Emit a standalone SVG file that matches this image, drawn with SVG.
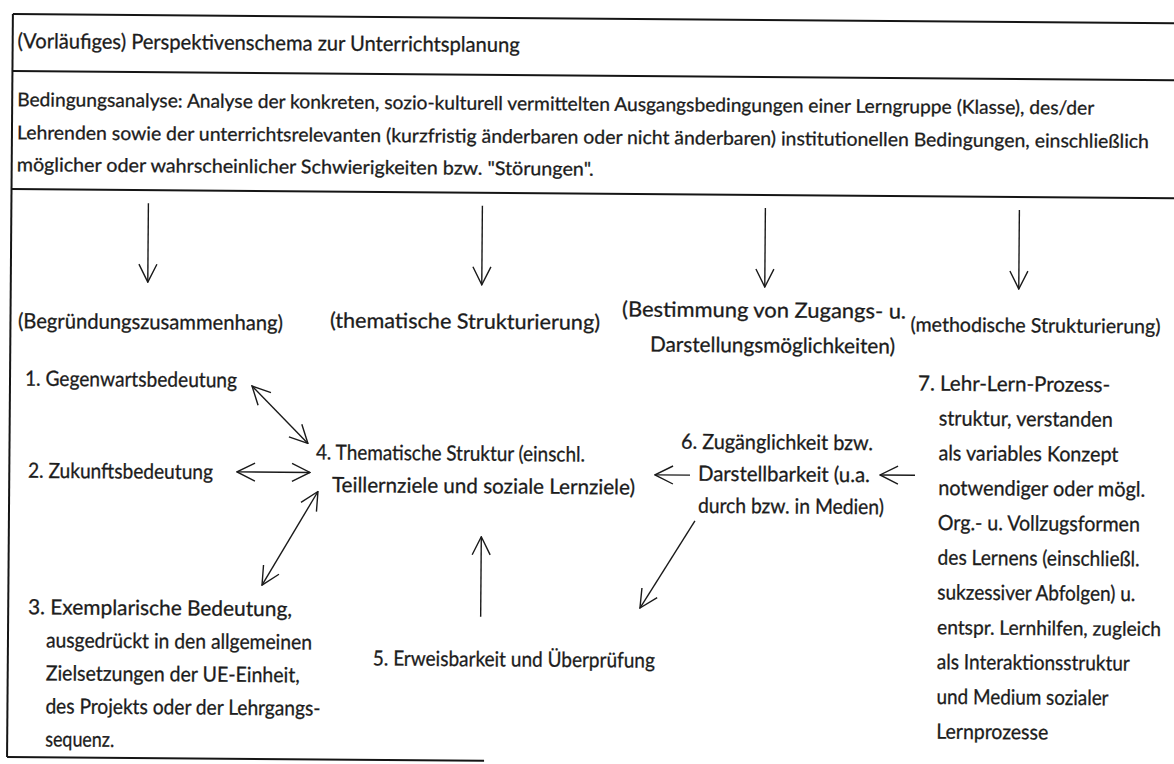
<svg xmlns="http://www.w3.org/2000/svg" width="1174" height="764" viewBox="0 0 1174 764">
<style>
text{font-family:Lato,"Open Sans","Liberation Sans",sans-serif;font-size:21px;fill:#1c1c1c;stroke:#1c1c1c;stroke-width:0.3}
.title{font-size:21px}
.body{font-size:19px}
.mid{font-size:20px}
.frame{stroke:#151515;stroke-width:2;fill:none}
.conn line{stroke:#1a1a1a;stroke-width:1.4;fill:none}
</style>
<defs>
<marker id="ah" viewBox="0 0 20 20" refX="19" refY="10" markerWidth="20" markerHeight="20" markerUnits="userSpaceOnUse" orient="auto-start-reverse">
<path d="M1,1 L19,10 L1,19" fill="none" stroke="#1a1a1a" stroke-width="1.4"/>
</marker>
</defs>
<rect x="0" y="0" width="1174" height="764" fill="#ffffff"/>
<g transform="rotate(0.45)">
<g id="frame" class="frame">
<line x1="13" y1="14" x2="1185" y2="14"/>
<line x1="13" y1="71" x2="1185" y2="71"/>
<line x1="13" y1="189" x2="1185" y2="189"/>
<line x1="13" y1="14" x2="13" y2="757"/>
<line x1="13" y1="757" x2="490" y2="757"/>
</g>
<g id="header">
<text class="title" x="18" y="48" textLength="502" lengthAdjust="spacingAndGlyphs">(Vorläufiges) Perspektivenschema zur Unterrichtsplanung</text>
</g>
<g id="bedingungsanalyse">
<text class="body" x="18" y="106" textLength="1077" lengthAdjust="spacingAndGlyphs">Bedingungsanalyse: Analyse der konkreten, sozio-kulturell vermittelten Ausgangsbedingungen einer Lerngruppe (Klasse), des/der</text>
<text class="body" x="18" y="139" textLength="1132" lengthAdjust="spacingAndGlyphs">Lehrenden sowie der unterrichtsrelevanten (kurzfristig änderbaren oder nicht änderbaren) institutionellen Bedingungen, einschließlich</text>
<text class="body" x="18" y="171" textLength="577" lengthAdjust="spacingAndGlyphs">möglicher oder wahrscheinlicher Schwierigkeiten bzw. "Störungen".</text>
</g>
<g id="perspektive-begruendung">
<text x="20.5" y="328" textLength="265" lengthAdjust="spacingAndGlyphs">(Begründungszusammenhang)</text>
</g>
<g id="perspektive-thematisch">
<text x="332.5" y="325" textLength="270" lengthAdjust="spacingAndGlyphs">(thematische Strukturierung)</text>
</g>
<g id="perspektive-zugang">
<text x="624.5" y="311.5" textLength="284" lengthAdjust="spacingAndGlyphs">(Bestimmung von Zugangs- u.</text>
<text x="652.7" y="346.5" textLength="245" lengthAdjust="spacingAndGlyphs">Darstellungsmöglichkeiten)</text>
</g>
<g id="perspektive-methodisch">
<text class="mid" x="913" y="324.3" textLength="250" lengthAdjust="spacingAndGlyphs">(methodische Strukturierung)</text>
</g>
<g id="n1">
<text x="28" y="385.5" textLength="212" lengthAdjust="spacingAndGlyphs">1. Gegenwartsbedeutung</text>
</g>
<g id="n2">
<text x="31.7" y="477.5" textLength="185" lengthAdjust="spacingAndGlyphs">2. Zukunftsbedeutung</text>
</g>
<g id="n3">
<text x="32.8" y="614" textLength="264" lengthAdjust="spacingAndGlyphs">3. Exemplarische Bedeutung,</text>
<text x="51" y="647" textLength="266" lengthAdjust="spacingAndGlyphs">ausgedrückt in den allgemeinen</text>
<text x="51" y="680" textLength="254" lengthAdjust="spacingAndGlyphs">Zielsetzungen der UE-Einheit,</text>
<text x="51" y="713" textLength="275" lengthAdjust="spacingAndGlyphs">des Projekts oder der Lehrgangs-</text>
<text x="51" y="746" textLength="69" lengthAdjust="spacingAndGlyphs">sequenz.</text>
</g>
<g id="n4">
<text x="319.5" y="457" textLength="269" lengthAdjust="spacingAndGlyphs">4. Thematische Struktur (einschl.</text>
<text x="335.8" y="489.5" textLength="303" lengthAdjust="spacingAndGlyphs">Teillernziele und soziale Lernziele)</text>
</g>
<g id="n5">
<text x="378" y="662.5" textLength="282" lengthAdjust="spacingAndGlyphs">5. Erweisbarkeit und Überprüfung</text>
</g>
<g id="n6">
<text x="684.4" y="443.4" textLength="192" lengthAdjust="spacingAndGlyphs">6. Zugänglichkeit bzw.</text>
<text x="701.7" y="475.3" textLength="172" lengthAdjust="spacingAndGlyphs">Darstellbarkeit (u.a.</text>
<text x="701.9" y="507.3" textLength="186" lengthAdjust="spacingAndGlyphs">durch bzw. in Medien)</text>
</g>
<g id="n7">
<text x="921.1" y="383.3" textLength="192" lengthAdjust="spacingAndGlyphs">7. Lehr-Lern-Prozess-</text>
<text x="942" y="418.1" textLength="174" lengthAdjust="spacingAndGlyphs">struktur, verstanden</text>
<text x="942" y="452.9" textLength="180" lengthAdjust="spacingAndGlyphs">als variables Konzept</text>
<text x="942" y="487.7" textLength="207" lengthAdjust="spacingAndGlyphs">notwendiger oder mögl.</text>
<text x="942" y="522.5" textLength="202" lengthAdjust="spacingAndGlyphs">Org.- u. Vollzugsformen</text>
<text x="942" y="557.3" textLength="202" lengthAdjust="spacingAndGlyphs">des Lernens (einschließl.</text>
<text x="942" y="592.1" textLength="198" lengthAdjust="spacingAndGlyphs">sukzessiver Abfolgen) u.</text>
<text class="mid" x="942" y="626.9" textLength="224" lengthAdjust="spacingAndGlyphs">entspr. Lernhilfen, zugleich</text>
<text x="942" y="661.7" textLength="193" lengthAdjust="spacingAndGlyphs">als Interaktionsstruktur</text>
<text x="942" y="696.5" textLength="172" lengthAdjust="spacingAndGlyphs">und Medium sozialer</text>
<text x="942" y="731.3" textLength="112" lengthAdjust="spacingAndGlyphs">Lernprozesse</text>
</g>
<g id="connectors" class="conn">
<line x1="150" y1="202" x2="150" y2="281" marker-end="url(#ah)"/>
<line x1="484" y1="202" x2="484" y2="281" marker-end="url(#ah)"/>
<line x1="767" y1="202" x2="767" y2="281" marker-end="url(#ah)"/>
<line x1="1021" y1="202" x2="1021" y2="281" marker-end="url(#ah)"/>
<line x1="255" y1="384" x2="311.4" y2="441" marker-start="url(#ah)" marker-end="url(#ah)"/>
<line x1="240.7" y1="470" x2="313.7" y2="470" marker-start="url(#ah)" marker-end="url(#ah)"/>
<line x1="266.6" y1="583" x2="321.8" y2="489" marker-start="url(#ah)" marker-end="url(#ah)"/>
<line x1="485.5" y1="613" x2="485.5" y2="533" marker-end="url(#ah)"/>
<line x1="693.7" y1="469.7" x2="658.7" y2="469.7" marker-end="url(#ah)"/>
<line x1="918.7" y1="468" x2="883.7" y2="468" marker-end="url(#ah)"/>
<line x1="699" y1="515.5" x2="644.7" y2="603" marker-end="url(#ah)"/>
</g>
</g>
</svg>
